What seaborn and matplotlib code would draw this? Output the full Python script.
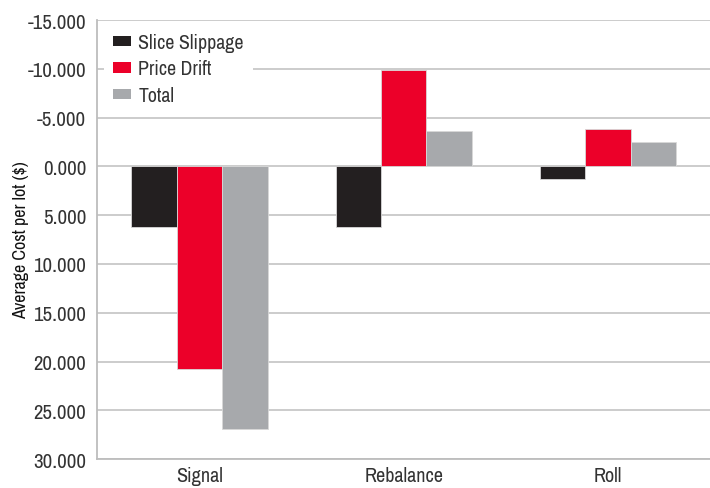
import pandas as pd
import matplotlib.pyplot as plt
import seaborn as sns
from matplotlib import font_manager

# values
categories = ['Signal', 'Rebalance', 'Roll']
series = ['Slice Slippage', 'Price Drift', 'Total']
slice_slippage = [6.25, 6.25, 1.25]
price_drift = [20.75, -9.85, -3.85]
total = [26.95, -3.6, -2.55]
colors = ['#231f20', '#ec0029', '#a7a9ac']

df = pd.DataFrame({
    'Category': categories * 3,
    'Series': [s for s in series for _ in categories],
    'Cost': slice_slippage + price_drift + total,
})

# prefer a narrow face if one happens to be installed
narrow = sorted({f.name for f in font_manager.fontManager.ttflist
                 if 'Narrow' in f.name or 'Condensed' in f.name})

sns.set_theme(style='white')
plt.rcParams['font.family'] = narrow[:1] + ['Liberation Sans', 'DejaVu Sans']
plt.rcParams['text.color'] = '#333333'
plt.rcParams['axes.labelcolor'] = '#111111'

fig = plt.figure(figsize=(7.1, 4.89), dpi=100)
ax = fig.add_axes([0.137, 0.059, 0.863, 0.898])

sns.barplot(data=df, x='Category', y='Cost', hue='Series', order=categories,
            hue_order=series, palette=colors, width=0.667, saturation=1,
            edgecolor='#d8d8d8', linewidth=0.6, ax=ax)

ax.set_ylim(30, -15)
ax.set_xlim(-0.5, 2.5)
ax.set_yticks([-15, -10, -5, 0, 5, 10, 15, 20, 25, 30])
ax.set_yticklabels([f'{v:.3f}' for v in ax.get_yticks()])
ax.yaxis.grid(True, color='#c8c8c8', linewidth=1.3)
ax.set_axisbelow(True)

for side in ['top', 'right']:
    ax.spines[side].set_visible(False)
for side in ['left', 'bottom']:
    ax.spines[side].set_color('#bdbdbd')
    ax.spines[side].set_linewidth(1.3)

ax.tick_params(axis='x', labelsize=14.5, colors='#333333', length=0, pad=5)
ax.tick_params(axis='y', labelsize=15, colors='#333333', length=5, width=1.2,
               pad=3)
ax.tick_params(axis='y', color='#bdbdbd')
ax.set_xlabel('')
ax.set_ylabel('Average Cost per lot ($)', fontsize=13, fontweight='bold')
ax.yaxis.set_label_coords(-0.112, 0.5)

leg = ax.legend(loc='upper left', bbox_to_anchor=(0.004, 1.0), frameon=True,
                facecolor='white', edgecolor='none', framealpha=1,
                fontsize=14.3, handlelength=0.95, handleheight=0.45,
                handletextpad=0.35, labelspacing=0.38, borderaxespad=0.2,
                borderpad=0.45)
for h in leg.legend_handles:
    h.set_edgecolor('none')

plt.savefig('out.png', dpi=100)
